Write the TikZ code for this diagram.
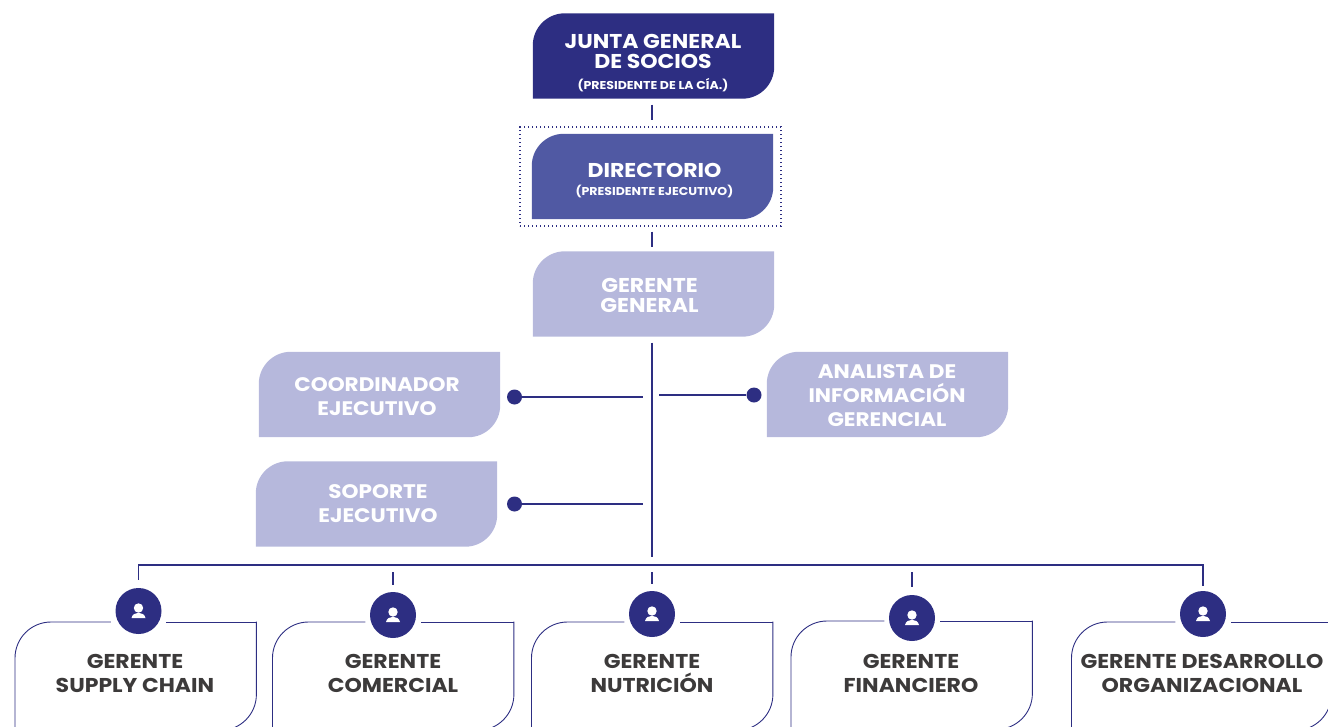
\documentclass[tikz,border=0pt]{standalone}
\usepackage{fontspec}
\setmainfont[FakeStretch=1.1]{Poppins}
\usetikzlibrary{backgrounds}

\definecolor{azul}{RGB}{45,46,130}
\definecolor{medio}{RGB}{80,89,163}
\definecolor{claro}{RGB}{182,184,220}
\definecolor{texto}{RGB}{60,58,58}

\newcommand{\nota}{\fontsize{11.4}{13}\selectfont\bfseries}

\tikzset{
    caja/.style={minimum width=241pt, minimum height=85pt, inner sep=0pt},
    letra/.style={align=center, text=white, inner sep=0pt, font={\fontsize{20}{20}\selectfont\bfseries}},
    letraancha/.style={letra, font={\fontsize{19.6}{24}\selectfont\bfseries}},
    tarjeta/.style={minimum height=108pt, inner sep=0pt, anchor=north west},
    rotulo/.style={align=center, text=texto, inner sep=0pt, font={\fontsize{20}{24}\selectfont\bfseries}},
    enlace/.style={color=azul, line width=1.1pt},
    borde/.style={color=azul, line width=0.9pt, line cap=rect},
    punto/.style={circle, fill=azul, minimum size=15pt, inner sep=0pt},
    icono/.style={circle, fill=azul, minimum size=46pt, inner sep=0pt},
}

% fondo de hoja: esquinas superior izquierda e inferior derecha redondeadas
\newcommand{\hoja}[2]{
    \begin{scope}[on background layer]
        \fill[#2] (#1.south west) [rounded corners=32pt] -- (#1.north west) [sharp corners] -- (#1.north east) [rounded corners=32pt] -- (#1.south east) [sharp corners] -- cycle;
    \end{scope}
}
% gerente: marco abierto en el circulo y rotulo
\newcommand{\gerente}[6]{
    \node[tarjeta, minimum width=#4pt] (#1) at (#2, #3) {};
    \node[rotulo] (#1txt) at (#5, 673) {#6};
    \draw[borde] (#1ico.west |- #1.north) ++(-5pt, 0) [rounded corners=36pt] -- (#1.north west) -- (#1.south west);
    \draw[borde] (#1ico.east |- #1.north) ++(5pt, 0) -- (#1.north east);
    \draw[borde, rounded corners=36pt] (#1.north east) -- (#1.south east) -- (#1.south west);
}

\begin{document}
\begin{tikzpicture}[x=1pt, y=-1pt]
    \useasboundingbox (0, 0) rectangle (1328, 726);
    \clip (0, 0) rectangle (1328, 726);

    \node[caja] (junta) at (653.5, 56) {};
    \hoja{junta}{azul}
    \node[letra] (juntatxt) at (653, 63.5) {JUNTA GENERAL\\DE SOCIOS\\[1pt]{\nota (PRESIDENTE DE LA CÍA.)}};
    \node[caja] (directorio) at (652.5, 176.5) {};
    \hoja{directorio}{medio}
    \node[letra] (directoriotxt) at (654.5, 181) {DIRECTORIO\\[-2pt]{\nota (PRESIDENTE EJECUTIVO)}};
    \node[draw=azul, dash pattern=on 1.3pt off 2.7pt, line width=1.3pt, minimum width=261pt, minimum height=99pt] (marco) at (650.5, 176.5) {};
    \node[caja] (general) at (653.5, 294) {};
    \hoja{general}{claro}
    \node[letra] (generaltxt) at (649.5, 295) {GERENTE\\GENERAL};
    \node[caja] (coordinador) at (379.5, 394.5) {};
    \hoja{coordinador}{claro}
    \node[letraancha] (coordinadortxt) at (377, 397) {COORDINADOR\\EJECUTIVO};
    \node[caja] (analista) at (887.5, 394.5) {};
    \hoja{analista}{claro}
    \node[letraancha] (analistatxt) at (887, 396) {ANALISTA DE\\INFORMACIÓN\\GERENCIAL};
    \node[caja] (soporte) at (376.5, 504) {};
    \hoja{soporte}{claro}
    \node[letraancha] (soportetxt) at (378, 504) {SOPORTE\\EJECUTIVO};

    \node[punto] (pcoordinador) at (514.5, 397) {};
    \node[punto] (panalista) at (754, 395) {};
    \node[punto] (psoporte) at (514.5, 504) {};

    \coordinate (tronco) at (652, 557);
    \coordinate (rcoordinador) at (643, 397);
    \coordinate (ranalista) at (659, 395);
    \coordinate (rsoporte) at (643, 504);
    \coordinate (busi) at (138.5, 565);
    \coordinate (busd) at (1203, 565);
    \coordinate (tcomercial) at (393, 572);
    \coordinate (tnutricion) at (652, 572);
    \coordinate (tfinanciero) at (912, 572);

    \draw[enlace, shorten <=6pt, shorten >=6pt] (junta.south -| tronco) -- (marco.north -| tronco);
    \draw[enlace, shorten <=5pt, shorten >=4pt] (marco.south -| tronco) -- (general.north -| tronco);
    \draw[enlace, shorten <=6pt] (general.south -| tronco) -- (tronco);
    \draw[enlace] (pcoordinador) -- (rcoordinador);
    \draw[enlace] (panalista) -- (ranalista);
    \draw[enlace] (psoporte) -- (rsoporte);

    \node[icono] (supplyico) at (138.5, 611) {};
    \node[icono] (comercialico) at (393, 615) {};
    \node[icono] (nutricionico) at (652, 614) {};
    \node[icono] (financieroico) at (912, 618) {};
    \node[icono] (desarrolloico) at (1203, 614) {};

    \foreach \ico in {supplyico, comercialico, nutricionico, financieroico, desarrolloico} {
        \fill[white] ([yshift=3pt]\ico.center) circle (4.7pt);
        \fill[white] ([xshift=-7pt, yshift=-7pt]\ico.center) .. controls +(1.5, -7) and +(-1.5, -7) .. ([xshift=7pt, yshift=-7pt]\ico.center) -- cycle;
    }

    \draw[enlace, shorten <=8pt, shorten >=5pt] (supplyico.north) -- (busi) -- (busd) -- (desarrolloico.north);
    \draw[enlace, shorten >=7pt] (tcomercial) -- (comercialico.north);
    \draw[enlace, shorten >=7pt] (tnutricion) -- (nutricionico.north);
    \draw[enlace, shorten >=8pt] (tfinanciero) -- (financieroico.north);

    \gerente{supply}{15}{622}{241}{135}{GERENTE\\SUPPLY CHAIN}
    \gerente{comercial}{272.5}{622}{241}{393}{GERENTE\\COMERCIAL}
    \gerente{nutricion}{531.5}{622}{241}{652}{GERENTE\\NUTRICIÓN}
    \gerente{financiero}{791}{621}{241}{911}{GERENTE\\FINANCIERO}
    \gerente{desarrollo}{1071.5}{622}{259.5}{1202}{GERENTE DESARROLLO\\ORGANIZACIONAL}
\end{tikzpicture}
\end{document}
